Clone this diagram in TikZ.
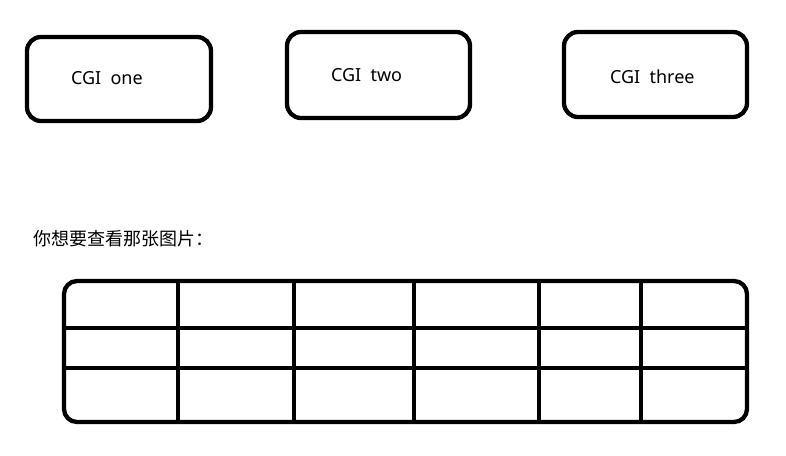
\documentclass[tikz,border=0pt]{standalone}
\usepackage{fontspec}
\setmainfont{Noto Sans}
\newfontfamily\cjk{Noto Sans CJK SC}
\begin{document}
\begin{tikzpicture}[x=1pt,y=-1pt,
  cgibox/.style={draw=black,line width=4.3pt,rounded corners=14pt,inner sep=0pt,outer sep=0pt},
  lbl/.style={inner sep=0pt,outer sep=0pt,anchor=base west,font=\fontsize{18}{20}\selectfont},
  grid line/.style={draw=black,line width=4.3pt}]
\useasboundingbox[fill=white] (0,0) rectangle (786,455);
% top boxes
\node[cgibox,minimum width=184pt,minimum height=84pt] (b1) at (119,79) {};
\node[cgibox,minimum width=183pt,minimum height=86pt] (b2) at (378.5,75) {};
\node[cgibox,minimum width=183pt,minimum height=85pt] (b3) at (655.5,74.5) {};
\node[lbl] (t1) at (71,84) {CGI\ \ one};
\node[lbl] (t2) at (331,81) {CGI\ \ two};
\node[lbl] (t3) at (610,83) {CGI\ \ three};
% prompt
\node[lbl,font=\cjk\fontsize{18}{20}\selectfont] (q) at (33,245) {你想要查看那张图片：};
% table
\coordinate (tl) at (64,281);
\coordinate (br) at (747,422);
\draw[grid line] (178,281) -- (178,422);
\draw[grid line] (294,281) -- (294,422);
\draw[grid line] (414,281) -- (414,422);
\draw[grid line] (539,281) -- (539,422);
\draw[grid line,line width=3.8pt] (641,281) -- (641,422);
\draw[grid line] (64,328) -- (747,328);
\draw[grid line] (64,368) -- (747,368);
\draw[grid line,rounded corners=13pt] (tl) rectangle (br);
\end{tikzpicture}
\end{document}
